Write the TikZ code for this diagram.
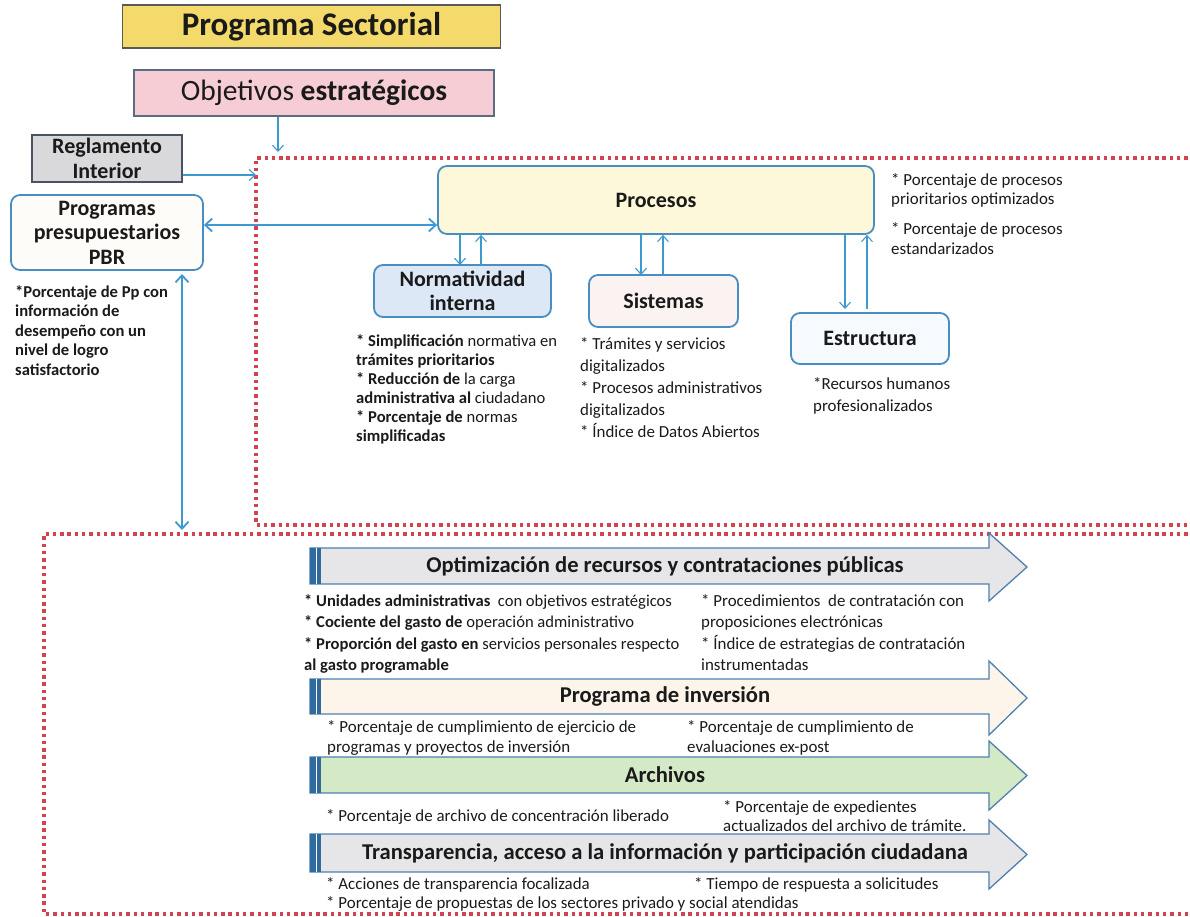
\documentclass[tikz,border=0pt]{standalone}
\usepackage{fontspec}
\setmainfont{Carlito}
\usetikzlibrary{arrows.meta}
\definecolor{connblue}{HTML}{3D9AD1}
\definecolor{boxblue}{HTML}{4A8DC0}
\definecolor{dotred}{HTML}{D2434F}
\definecolor{psyellow}{HTML}{F3DA6A}
\definecolor{objpink}{HTML}{F6CDD5}
\definecolor{objborder}{HTML}{5C6B84}
\definecolor{regborder}{HTML}{4A5264}
\definecolor{reggray}{HTML}{D9D9DB}
\definecolor{procyellow}{HTML}{FDF8DA}
\definecolor{normblue}{HTML}{DCE8F5}
\definecolor{sispink}{HTML}{FBF2F2}
\definecolor{estwhite}{HTML}{F6F9FD}
\definecolor{pbrwhite}{HTML}{FEFCF8}
\definecolor{arrgray}{HTML}{E6E6E8}
\definecolor{arrpeach}{HTML}{FDF4EA}
\definecolor{arrgreen}{HTML}{D4EAC6}
\definecolor{arrborder}{HTML}{4F80B0}
\definecolor{stripeblue}{HTML}{2F6B9C}
\definecolor{txtcol}{HTML}{1A1A1A}
\newcommand\flowarr[7]{%
  \draw[arrbody, fill=#5] (310,#1) -- (989,#1) -- (989,#3) -- (1027,{(#3+#4)/2}) -- (989,#4) -- (989,#2) -- (310,#2) -- cycle;
  \fill[stripeblue] (310,#1) rectangle (321,#2);
  \draw[white, line width=0.8pt] (316,#1) -- (316,#2);
  \node[arrtitle] (#6) at (665,{(#1+#2)/2}) {#7};
}
\begin{document}
\begin{tikzpicture}[x=1pt,y=-1pt,
  conn/.style={draw=connblue, line width=1.1pt, -{Straight Barb[length=6pt,width=11pt]}},
  connboth/.style={draw=connblue, line width=1.8pt, {Straight Barb[length=7pt,width=13pt]}-{Straight Barb[length=7pt,width=13pt]}},
  rbox/.style={draw=boxblue, line width=1.8pt, rounded corners=9pt, inner sep=0pt, align=center, text=txtcol,
    font=\fontsize{22}{24.5}\selectfont\bfseries},
  frame/.style={draw=dotred, line width=3.3pt, dash pattern=on 3.4pt off 3.9pt},
  txt/.style={inner sep=0pt, anchor=north west, align=left, text=txtcol, font=\fontsize{16.9}{19.5}\selectfont},
  arrbody/.style={draw=arrborder, line width=1.3pt},
  arrtitle/.style={inner sep=0pt, text=txtcol, font=\fontsize{22.6}{24}\selectfont\bfseries}
]
\useasboundingbox (0,0) rectangle (1190,917);

% red dotted frames
\draw[frame] (1195,158) -- (256,158) -- (256,525) -- (1195,525);
\draw[frame] (1195,534) -- (44,534) -- (44,914) -- (1195,914);

% top boxes
\node[draw=black!65, line width=1.5pt, fill=psyellow, minimum width=378pt, minimum height=43pt, inner sep=0pt,
  font=\fontsize{33}{36}\selectfont\bfseries, text=txtcol] (ps) at (311.5,26.5) {Programa Sectorial};
\node[draw=objborder, line width=1.5pt, fill=objpink, minimum width=360pt, minimum height=46pt, inner sep=0pt,
  font=\fontsize{29.5}{32}\selectfont, text=txtcol] (obj) at (314,93) {Objetivos \textbf{estratégicos}};
\node[draw=regborder, line width=1.5pt, fill=reggray, minimum width=150pt, minimum height=47pt, inner sep=0pt,
  align=center, font=\fontsize{22}{24.5}\selectfont\bfseries, text=txtcol] (regl) at (107,158.5) {Reglamento\\Interior};

\node[rbox, fill=pbrwhite, minimum width=192pt, minimum height=75pt] (pbr) at (107,232.5)
  {Programas\\presupuestarios\\PBR};
\node[rbox, fill=procyellow, minimum width=436pt, minimum height=68pt] (proc) at (656,200) {Procesos};
\node[rbox, fill=normblue, minimum width=177pt, minimum height=52pt] (norm) at (462.5,291) {Normatividad\\interna};
\node[rbox, fill=sispink, minimum width=149pt, minimum height=52pt] (sis) at (663.5,301) {Sistemas};
\node[rbox, fill=estwhite, minimum width=158pt, minimum height=51pt] (est) at (870,338.5) {Estructura};

% connectors
\coordinate (objin) at (278,152);
\draw[conn] (obj.south -| objin) -- (objin);
\coordinate (regin) at (256,175);
\draw[conn] (regl.east |- regin) -- (regin);
\coordinate (hy) at (0,225);
\draw[connboth] (pbr.east |- hy) -- (proc.west |- hy);
\coordinate (vtop) at (182,270);
\coordinate (vbot) at (182,530);
\draw[connboth, shorten <=4pt] (vtop) -- (vbot);

\coordinate (n1) at (460,265);
\coordinate (n2) at (481,265);
\draw[conn] (n1 |- proc.south) -- (n1);
\draw[conn] (n2) -- (n2 |- proc.south);
\coordinate (s1) at (641,275);
\coordinate (s2) at (663,275);
\draw[conn] (s1 |- proc.south) -- (s1);
\draw[conn] (s2) -- (s2 |- proc.south);
\coordinate (e1) at (845,309);
\coordinate (e2) at (867,309);
\draw[conn] (e1 |- proc.south) -- (e1);
\draw[conn] (e2) -- (e2 |- proc.south);

% texts upper area
\node[txt, font=\fontsize{16.6}{19.5}\selectfont\bfseries] (tpbr) at (15,285)
  {*Porcentaje de Pp con\\información de\\desempeño con un\\nivel de logro\\satisfactorio};
\node[txt, font=\fontsize{16.9}{19.7}\selectfont] (tproc) at (891,173)
  {* Porcentaje de procesos\\prioritarios optimizados\\[10pt]* Porcentaje de procesos\\estandarizados};
\node[txt, font=\fontsize{16.6}{19}\selectfont] (tnorm) at (356,334)
  {\textbf{* Simplificación} normativa en\\\textbf{trámites prioritarios}\\\textbf{* Reducción de} la carga\\\textbf{administrativa al} ciudadano\\\textbf{* Porcentaje de} normas\\\textbf{simplificadas}};
\node[txt, font=\fontsize{16.9}{22}\selectfont] (tsis) at (580,337)
  {* Trámites y servicios\\digitalizados\\* Procesos administrativos\\digitalizados\\* Índice de Datos Abiertos};
\node[txt, font=\fontsize{16.9}{22}\selectfont] (test) at (813,377)
  {*Recursos humanos\\profesionalizados};

% flow arrows
\flowarr{548}{584}{533}{601}{arrgray}{a1}{Optimización de recursos y contrataciones públicas}
\flowarr{679}{714}{661}{735}{arrpeach}{a2}{Programa de inversión}
\flowarr{757}{793}{741}{810}{arrgreen}{a3}{Archivos}
\flowarr{834}{872}{820}{889}{arrgray}{a4}{Transparencia, acceso a la información y participación ciudadana}

% flow texts
\node[txt, font=\fontsize{16.6}{21.5}\selectfont] (ta1l) at (304,594)
  {\textbf{* Unidades administrativas}\ \ con objetivos estratégicos\\\textbf{* Cociente del gasto de} operación administrativo\\\textbf{* Proporción del gasto en} servicios personales respecto\\\textbf{al gasto programable}};
\node[txt, font=\fontsize{16.9}{21.5}\selectfont] (ta1r) at (701,594)
  {* Procedimientos\ \ de contratación con\\proposiciones electrónicas\\* Índice de estrategias de contratación\\instrumentadas};
\node[txt, font=\fontsize{16.9}{20}\selectfont] (ta2l) at (327,720)
  {* Porcentaje de cumplimiento de ejercicio de\\programas y proyectos de inversión};
\node[txt, font=\fontsize{16.9}{20}\selectfont] (ta2r) at (687,720)
  {* Porcentaje de cumplimiento de\\evaluaciones ex-post};
\node[txt] (ta3l) at (326,809) {* Porcentaje de archivo de concentración liberado};
\node[txt] (ta3r) at (723,800) {* Porcentaje de expedientes\\actualizados del archivo de trámite.};
\node[txt] (ta4l) at (326,877)
  {* Acciones de transparencia focalizada\\* Porcentaje de propuestas de los sectores privado y social atendidas};
\node[txt] (ta4r) at (694,877) {* Tiempo de respuesta a solicitudes};
\end{tikzpicture}
\end{document}
